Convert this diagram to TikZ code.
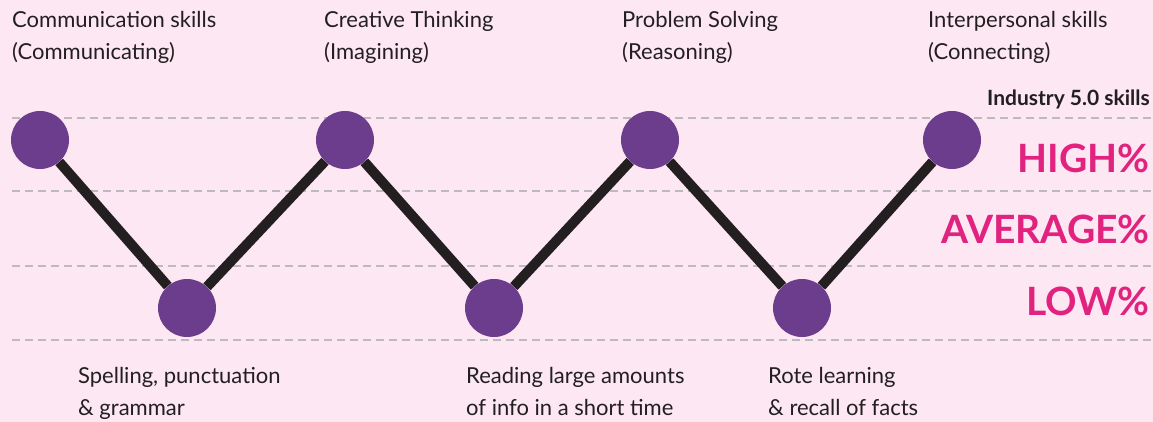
\documentclass[tikz,border=0pt]{standalone}
\usepackage{fontspec}
\setmainfont{Lato}
\definecolor{bgpink}{HTML}{FCE7F3}
\definecolor{dot}{HTML}{6B3D8C}
\definecolor{ink}{HTML}{231F20}
\definecolor{hot}{HTML}{E1237F}
\definecolor{dashgray}{HTML}{BDBABD}
\tikzset{
  skill/.style={circle,fill=dot,minimum size=58pt,inner sep=0pt},
  link/.style={draw=ink,line width=10pt},
  grid/.style={draw=dashgray,line width=2pt,dash pattern=on 8pt off 5pt},
  lbl/.style={anchor=base west,inner sep=0pt,align=left,text=ink,font=\fontsize{22}{32}\selectfont},
  level/.style={anchor=base east,inner sep=0pt,text=hot,font=\fontsize{39}{39}\selectfont\bfseries},
}
\begin{document}
\begin{tikzpicture}[x=1pt,y=-1pt]
\fill[bgpink] (0,0) rectangle (1153,422);
\useasboundingbox (0,0) rectangle (1153,422);
% dashed level lines
\coordinate (g1a) at (12,118); \coordinate (g1b) at (1153,118);
\coordinate (g2a) at (12,191); \coordinate (g2b) at (1153,191);
\coordinate (g3a) at (12,266); \coordinate (g3b) at (1153,266);
\coordinate (g4a) at (12,340); \coordinate (g4b) at (1153,340);
\draw[grid] (g1a) -- (g1b);
\draw[grid] (g2a) -- (g2b);
\draw[grid] (g3a) -- (g3b);
\draw[grid] (g4a) -- (g4b);
% dots
\node[skill] (t1) at (40,140) {};
\node[skill] (b1) at (187,308) {};
\node[skill] (t2) at (345,140) {};
\node[skill] (b2) at (494,308) {};
\node[skill] (t3) at (650,140) {};
\node[skill] (b3) at (802,308) {};
\node[skill] (t4) at (952,140) {};
\draw[link] (t1) -- (b1);
\draw[link] (b1) -- (t2);
\draw[link] (t2) -- (b2);
\draw[link] (b2) -- (t3);
\draw[link] (t3) -- (b3);
\draw[link] (b3) -- (t4);
% top labels (anchored at the baseline of the last line)
\node[lbl] (l1) at (12,60) {Communication skills\\(Communicating)};
\node[lbl] (l2) at (324,60) {Creative Thinking\\(Imagining)};
\node[lbl] (l3) at (622,60) {Problem Solving\\(Reasoning)};
\node[lbl] (l4) at (928,60) {Interpersonal skills\\(Connecting)};
% bottom labels
\node[lbl] (m1) at (78,415) {Spelling, punctuation\\\& grammar};
\node[lbl] (m2) at (466,415) {Reading large amounts\\of info in a short time};
\node[lbl] (m3) at (768,415) {Rote learning\\\& recall of facts};
% right side
\node[anchor=base east,inner sep=0pt,text=ink,font=\fontsize{21}{21}\selectfont\bfseries] (ind) at (1150,106) {Industry 5.0 skills};
\node[level] (high) at (1150,173) {HIGH\%};
\node[level] (avg) at (1150,243) {AVERAGE\%};
\node[level] (low) at (1150,315) {LOW\%};
\end{tikzpicture}
\end{document}
